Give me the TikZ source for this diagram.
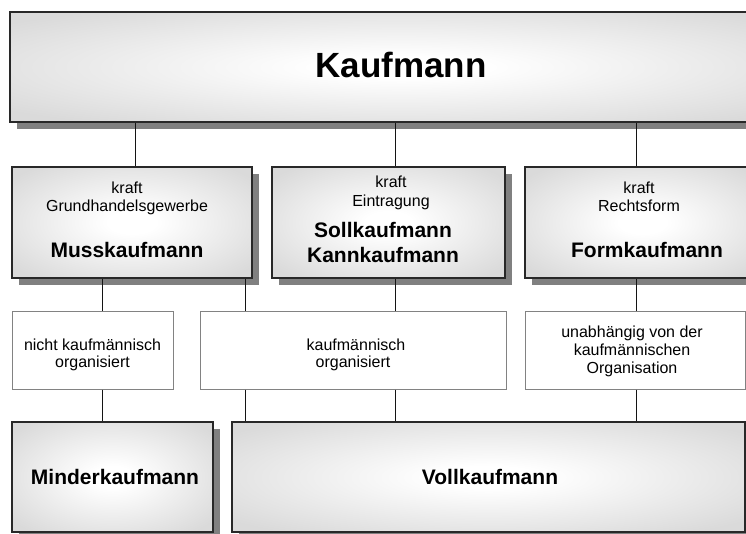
\documentclass[tikz,border=0pt]{standalone}
\usepackage{fontspec}
\setmainfont{Liberation Sans}
\usetikzlibrary{shadows}

\definecolor{edgegray}{RGB}{218,218,218}
\definecolor{shadowgray}{RGB}{128,128,128}
\definecolor{boxline}{RGB}{40,40,40}
\definecolor{noteline}{RGB}{130,130,130}
\definecolor{linkline}{RGB}{20,20,20}

% soft glow from the centre of a box towards its edges
\pgfdeclareradialshading{boxglow}{\pgfpoint{0bp}{0bp}}{%
  color(0bp)=(white); color(5bp)=(white); color(32bp)=(edgegray); color(50bp)=(edgegray)}

\tikzset{
  glowbox/.style={rectangle, inner sep=0pt, draw=boxline, line width=1.1pt,
    shading=boxglow,
    drop shadow={shadow xshift=7pt, shadow yshift=-7pt, fill=shadowgray, opacity=1}},
  notebox/.style={rectangle, inner sep=0pt, draw=noteline, line width=1pt, fill=white},
  small/.style={anchor=base, inner sep=0pt, font=\fontsize{16}{18}\selectfont},
  heavy/.style={anchor=base, inner sep=0pt, font=\fontsize{21}{25}\selectfont\bfseries},
  link/.style={draw=linkline, line width=1pt}
}

\begin{document}
\begin{tikzpicture}[x=1pt, y=-1pt]
\useasboundingbox (0,0) rectangle (746,533);
\clip (0,0) rectangle (746,533);

% boxes
\node[glowbox, minimum width=782pt, minimum height=110pt] (title) at (401,67) {};
\node[glowbox, minimum width=240pt, minimum height=111pt] (muss) at (132,222.5) {};
\node[glowbox, minimum width=233pt, minimum height=111pt] (soll) at (388.5,222.5) {};
\node[glowbox, minimum width=235pt, minimum height=111pt] (form) at (642.5,222.5) {};
\node[notebox, minimum width=161pt, minimum height=78pt] (nka) at (92.5,350) {};
\node[notebox, minimum width=306pt, minimum height=78pt] (kor) at (353,350) {};
\node[notebox, minimum width=220pt, minimum height=78pt] (unab) at (635,350) {};
\node[glowbox, minimum width=201pt, minimum height=110pt] (minder) at (112.5,477) {};
\node[glowbox, minimum width=513pt, minimum height=110pt] (voll) at (488.5,477) {};

% texts
\node[anchor=base, inner sep=0pt, font=\fontsize{35}{40}\selectfont\bfseries] (t-title) at (401,77) {Kaufmann};

\node[small] (t-muss-a) at (127,193) {kraft};
\node[small] (t-muss-b) at (127,211) {Grundhandelsgewerbe};
\node[heavy] (t-muss-c) at (127,257) {Musskaufmann};

\node[small] (t-soll-a) at (391,187) {kraft};
\node[small] (t-soll-b) at (391,206) {Eintragung};
\node[heavy] (t-soll-c) at (383,237) {Sollkaufmann};
\node[heavy] (t-soll-d) at (383,262) {Kannkaufmann};

\node[small] (t-form-a) at (639,193) {kraft};
\node[small] (t-form-b) at (639,211) {Rechtsform};
\node[heavy] (t-form-c) at (647,257) {Formkaufmann};

\node[small] (t-nka-a) at (92.5,350) {nicht kaufmännisch};
\node[small] (t-nka-b) at (92.5,367) {organisiert};

\node[small] (t-kor-a) at (356,350) {kaufmännisch};
\node[small] (t-kor-b) at (353,367) {organisiert};

\node[small] (t-unab-a) at (632,337) {unabhängig von der};
\node[small] (t-unab-b) at (632,355) {kaufmännischen};
\node[small] (t-unab-c) at (632,373) {Organisation};

\node[heavy] (t-minder) at (115,484) {Minderkaufmann};
\node[heavy] (t-voll) at (490,484) {Vollkaufmann};

% connector columns
\coordinate (c1) at (135,0);
\coordinate (c2) at (395,0);
\coordinate (c3) at (636,0);
\coordinate (c4) at (102,0);
\coordinate (c5) at (245,0);

% connectors
\draw[link] (title.south -| c1) -- (muss.north -| c1);
\draw[link] (title.south -| c2) -- (soll.north -| c2);
\draw[link] (title.south -| c3) -- (form.north -| c3);
\draw[link] (muss.south -| c4) -- (nka.north -| c4);
\draw[link] (muss.south -| c5) -- (kor.north -| c5);
\draw[link] (soll.south -| c2) -- (kor.north -| c2);
\draw[link] (form.south -| c3) -- (unab.north -| c3);
\draw[link] (nka.south -| c4) -- (minder.north -| c4);
\draw[link] (kor.south -| c5) -- (voll.north -| c5);
\draw[link] (kor.south -| c2) -- (voll.north -| c2);
\draw[link] (unab.south -| c3) -- (voll.north -| c3);
\end{tikzpicture}
\end{document}
